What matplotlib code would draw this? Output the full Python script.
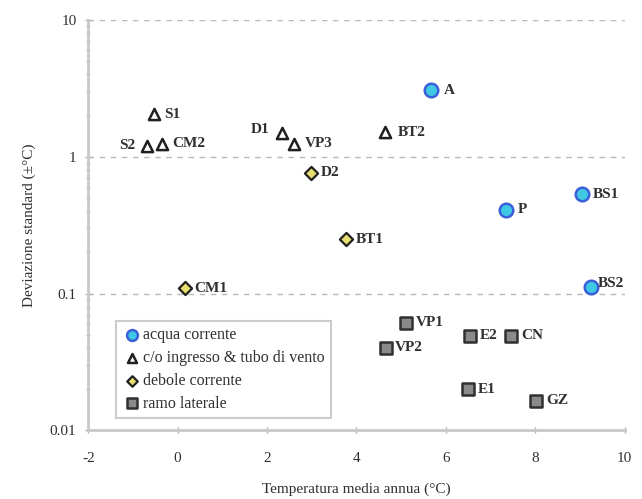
import matplotlib
matplotlib.use("Agg")
import matplotlib.pyplot as plt
from matplotlib.ticker import FixedLocator, LogLocator, NullFormatter, FixedFormatter

plt.rcParams['font.family'] = ['Liberation Serif', 'DejaVu Serif']
plt.rcParams['axes.unicode_minus'] = False

# Stations grouped by type of air circulation
acqua_names = ["A", "P", "BS1", "BS2"]
acqua_x = [5.67, 7.35, 9.04, 9.25]
acqua_y = [3.07, 0.41, 0.533, 0.111]

ingresso_names = ["S1", "S2", "CM2", "D1", "VP3", "BT2"]
ingresso_x = [-0.53, -0.69, -0.34, 2.33, 2.60, 4.64]
ingresso_y = [2.05, 1.20, 1.24, 1.48, 1.24, 1.51]

debole_names = ["D2", "BT1", "CM1"]
debole_x = [2.98, 3.76, 0.16]
debole_y = [0.764, 0.249, 0.109]

ramo_names = ["VP1", "VP2", "E2", "CN", "E1", "GZ"]
ramo_x = [5.10, 4.65, 6.53, 7.46, 6.49, 8.02]
ramo_y = [0.061, 0.040, 0.049, 0.049, 0.0199, 0.0164]

x_ticks = [-2, 0, 2, 4, 6, 8, 10]
y_ticks = [0.01, 0.1, 1, 10]
y_tick_labels = ["0.01", "0.1", "1", "10"]

legend_labels = ["acqua corrente", "c/o ingresso & tubo di vento",
                 "debole corrente", "ramo laterale"]

# label offsets in points (dx, dy), default to the right of the marker
offsets = {"S2": (-8, 0, "right"), "D1": (-9, 3, "right"), "BS2": (5, 3, "left"),
           "A": (9, 0, "left"), "P": (8, 0, "left"), "BS1": (8, 0, "left"),
           "VP3": (8, 0, "left"), "BT2": (9, 0, "left")}

fig = plt.figure(figsize=(6.42, 4.99), dpi=100)
ax = fig.add_axes([0.1375, 0.1377, 0.8355, 0.8223])

ax.set_xscale('linear')
ax.set_yscale('log')
ax.set_xlim(-2, 10)
ax.set_ylim(0.01, 10)

for yv in [0.1, 1, 10]:
    ax.axhline(yv, color='#b8b8b8', lw=1.0, ls=(0, (4, 4)), zorder=1)

h1 = ax.scatter(acqua_x, acqua_y, s=95, marker='o', facecolor='#3ec8e4',
                edgecolor='#3a5fd8', linewidth=1.8, zorder=3)
h2 = ax.scatter(ingresso_x, ingresso_y, s=65, marker='^', facecolor='white',
                edgecolor='#202020', linewidth=1.8, zorder=3)
h3 = ax.scatter(debole_x, debole_y, s=45, marker='D', facecolor='#e8e070',
                edgecolor='#202020', linewidth=1.6, zorder=3)
h4 = ax.scatter(ramo_x, ramo_y, s=80, marker='s', facecolor='#8a8a8a',
                edgecolor='#303030', linewidth=1.8, zorder=3)

for names, xs, ys in [(acqua_names, acqua_x, acqua_y),
                      (ingresso_names, ingresso_x, ingresso_y),
                      (debole_names, debole_x, debole_y),
                      (ramo_names, ramo_x, ramo_y)]:
    for n, xv, yv in zip(names, xs, ys):
        dx, dy, ha = offsets.get(n, (7, 0, "left"))
        ax.annotate(n, (xv, yv), xytext=(dx, dy), textcoords='offset points',
                    ha=ha, va='center', fontsize=11, color='#303030',
                    fontweight='bold', zorder=4)

ax.xaxis.set_major_locator(FixedLocator(x_ticks))
ax.yaxis.set_major_locator(FixedLocator(y_ticks))
ax.yaxis.set_major_formatter(FixedFormatter(y_tick_labels))
ax.yaxis.set_minor_locator(LogLocator(base=10, subs=range(2, 10)))
ax.yaxis.set_minor_formatter(NullFormatter())

for side in ['top', 'right']:
    ax.spines[side].set_visible(False)
for side in ['left', 'bottom']:
    ax.spines[side].set_color('#c8c8c8')
    ax.spines[side].set_linewidth(2)

ax.tick_params(axis='both', which='major', direction='inout', length=5,
               color='#b0b0b0', width=1, labelsize=11, labelcolor='#303030', pad=6)
ax.tick_params(axis='y', which='minor', direction='inout', length=3,
               color='#b0b0b0', width=1)
ax.tick_params(axis='x', pad=13)

ax.set_xlabel("Temperatura media annua (°C)", fontsize=11, color='#303030', labelpad=13)
ax.set_ylabel("Deviazione standard (±°C)", fontsize=11, color='#303030', labelpad=10)

leg = ax.legend([h1, h2, h3, h4], legend_labels, loc='lower left',
                bbox_to_anchor=(0.051, 0.03), fontsize=11.5, frameon=True,
                fancybox=False, edgecolor='#c0c0c0', handletextpad=0.0,
                handlelength=1.3, borderpad=0.4, labelspacing=0.42,
                markerscale=0.8, borderaxespad=0)
leg.get_frame().set_linewidth(1.5)
for t in leg.get_texts():
    t.set_color('#303030')

fig.savefig("out.png", dpi=100)
